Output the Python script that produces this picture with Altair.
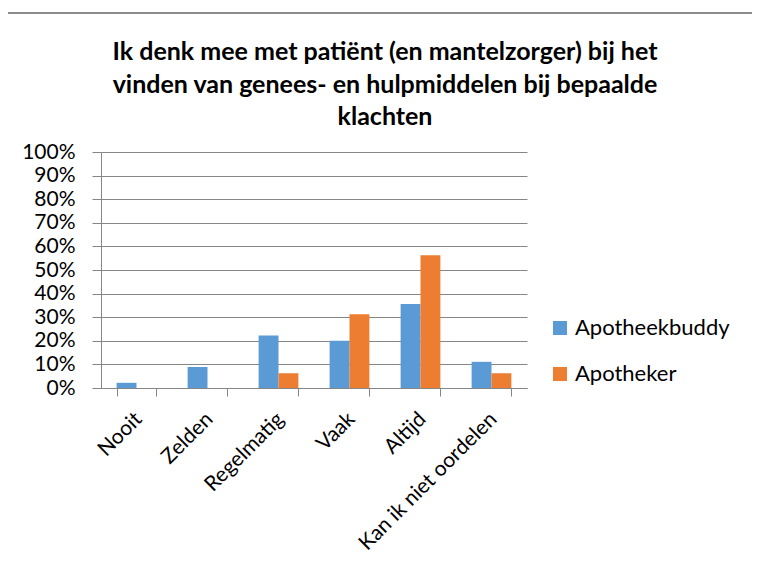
import altair as alt
import pandas as pd

categories = ["Nooit", "Zelden", "Regelmatig", "Vaak", "Altijd", "Kan ik niet oordelen"]
series = ["Apotheekbuddy", "Apotheker"]
apotheekbuddy = [0.022, 0.089, 0.222, 0.200, 0.356, 0.111]
apotheker = [0.0, 0.0, 0.0625, 0.3125, 0.5625, 0.0625]
colors = ["#5B9BD5", "#ED7D31"]
title_lines = [
    "Ik denk mee met patiënt (en mantelzorger) bij het",
    "vinden van genees- en hulpmiddelen bij bepaalde",
    "klachten",
]

rows = []
for c, a, b in zip(categories, apotheekbuddy, apotheker):
    rows.append({"cat": c, "serie": series[0], "val": a})
    rows.append({"cat": c, "serie": series[1], "val": b})
df = pd.DataFrame(rows)

FONT = "Lato"

bars = alt.Chart(df).mark_bar().encode(
    x=alt.X(
        "cat:N",
        sort=categories,
        title=None,
        scale=alt.Scale(paddingInner=0.44, paddingOuter=0.22),
        axis=alt.Axis(
            labelAngle=-45,
            labelFontSize=21,
            labelFont=FONT,
            labelColor="#000000",
            labelLimit=0,
            tickBand="extent",
            tickSize=8,
            tickColor="#868686",
            domainColor="#868686",
            labelPadding=12,
            labelOffset=-6,
            grid=False,
        ),
    ),
    xOffset=alt.XOffset("serie:N", sort=series),
    y=alt.Y(
        "val:Q",
        title=None,
        scale=alt.Scale(domain=[0, 1]),
        axis=alt.Axis(
            format=".0%",
            values=[i / 10 for i in range(11)],
            labelFontSize=21,
            labelFont=FONT,
            labelColor="#000000",
            tickSize=9,
            tickColor="#868686",
            domainColor="#868686",
            gridColor="#868686",
            labelPadding=17,
        ),
    ),
    color=alt.Color(
        "serie:N",
        sort=series,
        scale=alt.Scale(domain=series, range=colors),
        legend=alt.Legend(
            title=None,
            orient="none",
            legendX=448,
            legendY=165,
            symbolType="square",
            symbolSize=196,
            symbolStrokeWidth=0,
            labelFontSize=22,
            labelFont=FONT,
            labelColor="#000000",
            labelOffset=4,
            rowPadding=24,
        ),
    ),
)

topline = alt.Chart(pd.DataFrame({"k": [0]})).mark_rule(color="#8c8c8c", strokeWidth=2).encode(
    x=alt.value(-93), x2=alt.value(651), y=alt.value(-139)
)

chart = alt.layer(bars, topline).properties(
    width=426,
    height=236,
    padding={"left": 93, "top": 144, "right": 225, "bottom": 182},
    autosize=alt.AutoSizeParams(type="none"),
    title=alt.TitleParams(
        text=title_lines,
        font=FONT,
        fontSize=25,
        fontWeight="bold",
        color="#000000",
        anchor="middle",
        dx=71,
        dy=132,
        lineHeight=32.5,
        offset=14,
    ),
).configure_view(stroke=None)

chart.save("out.html", embed_options={"renderer": "svg", "actions": False})
